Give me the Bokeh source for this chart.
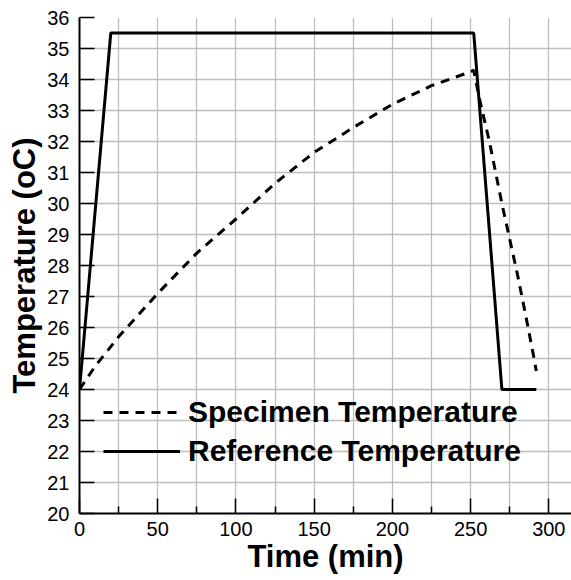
from bokeh.plotting import figure
from bokeh.models import FixedTicker, Range1d, Legend, LegendItem
from bokeh.embed import file_html
from bokeh.resources import INLINE

# Data
ref_time = [0, 20, 252, 270, 292]
ref_temp = [24.0, 35.5, 35.5, 24.0, 24.0]

spec_time = [0, 10, 25, 50, 75, 100, 125, 150, 175, 200, 225, 250, 252,
             256, 262, 270, 275, 280, 285, 290, 292]
spec_temp = [24.0, 24.75, 25.7, 27.1, 28.4, 29.5, 30.65, 31.65, 32.45, 33.2,
             33.8, 34.25, 34.3, 33.3, 32.0, 30.0, 28.85, 27.7, 26.45, 25.15, 24.6]

x_ticks = [0, 50, 100, 150, 200, 250, 300]
x_minor = [25, 75, 125, 175, 225, 275]
y_ticks = list(range(20, 37))

FONT = "Liberation Sans"

p = figure(width=571, height=580, output_backend="svg", toolbar_location=None,
           x_range=Range1d(0, 314.5), y_range=Range1d(20, 36),
           min_border_left=79, min_border_right=0, min_border_top=17,
           min_border_bottom=67)
p.outline_line_color = None
p.background_fill_color = "white"
p.border_fill_color = "white"

# Grid
p.xgrid.ticker = FixedTicker(ticks=sorted(x_ticks + x_minor))
p.ygrid.ticker = FixedTicker(ticks=y_ticks)
for g in (p.xgrid, p.ygrid):
    g.grid_line_color = "#bdbdbd"
    g.grid_line_width = 1.3

# Axes
p.xaxis.ticker = FixedTicker(ticks=x_ticks, minor_ticks=x_minor)
p.yaxis.ticker = FixedTicker(ticks=y_ticks)
for ax in (p.xaxis, p.yaxis):
    ax.axis_line_color = "black"
    ax.axis_line_width = 2
    ax.major_tick_line_color = "black"
    ax.major_tick_line_width = 1.5
    ax.major_tick_in = 15
    ax.major_tick_out = 0
    ax.major_label_text_font = FONT
    ax.major_label_text_font_size = "20px"
    ax.major_label_text_color = "black"
    ax.axis_label_text_font = FONT
    ax.axis_label_text_font_style = "bold"
    ax.axis_label_text_font_size = "31px"
    ax.axis_label_text_color = "black"
p.xaxis.minor_tick_in = 7
p.xaxis.minor_tick_out = 0
p.xaxis.minor_tick_line_color = "black"
p.xaxis.minor_tick_line_width = 1.5
p.yaxis.minor_tick_line_color = None
p.xaxis.axis_label = "Time (min)"
p.yaxis.axis_label = "Temperature (oC)"
p.xaxis.major_label_standoff = 8
p.xaxis.axis_label_standoff = 0
p.yaxis.major_label_standoff = 10
p.yaxis.axis_label_standoff = 2

# Lines
r_spec = p.line(spec_time, spec_temp, line_color="black", line_width=3,
                line_dash="9 7")
r_ref = p.line(ref_time, ref_temp, line_color="black", line_width=3)

legend = Legend(items=[LegendItem(label="Specimen Temperature", renderers=[r_spec]),
                       LegendItem(label="Reference Temperature", renderers=[r_ref])],
                location=(24, 45))
legend.margin = 0
legend.padding = 0
legend.spacing = 5
legend.glyph_width = 77
legend.glyph_height = 30
legend.label_height = 30
legend.label_standoff = 8
legend.label_text_font = FONT
legend.label_text_font_style = "bold"
legend.label_text_font_size = "30px"
legend.label_text_color = "black"
legend.border_line_color = None
legend.background_fill_alpha = 0
p.add_layout(legend, "center")

open("out.html", "w").write(file_html(p, INLINE))
